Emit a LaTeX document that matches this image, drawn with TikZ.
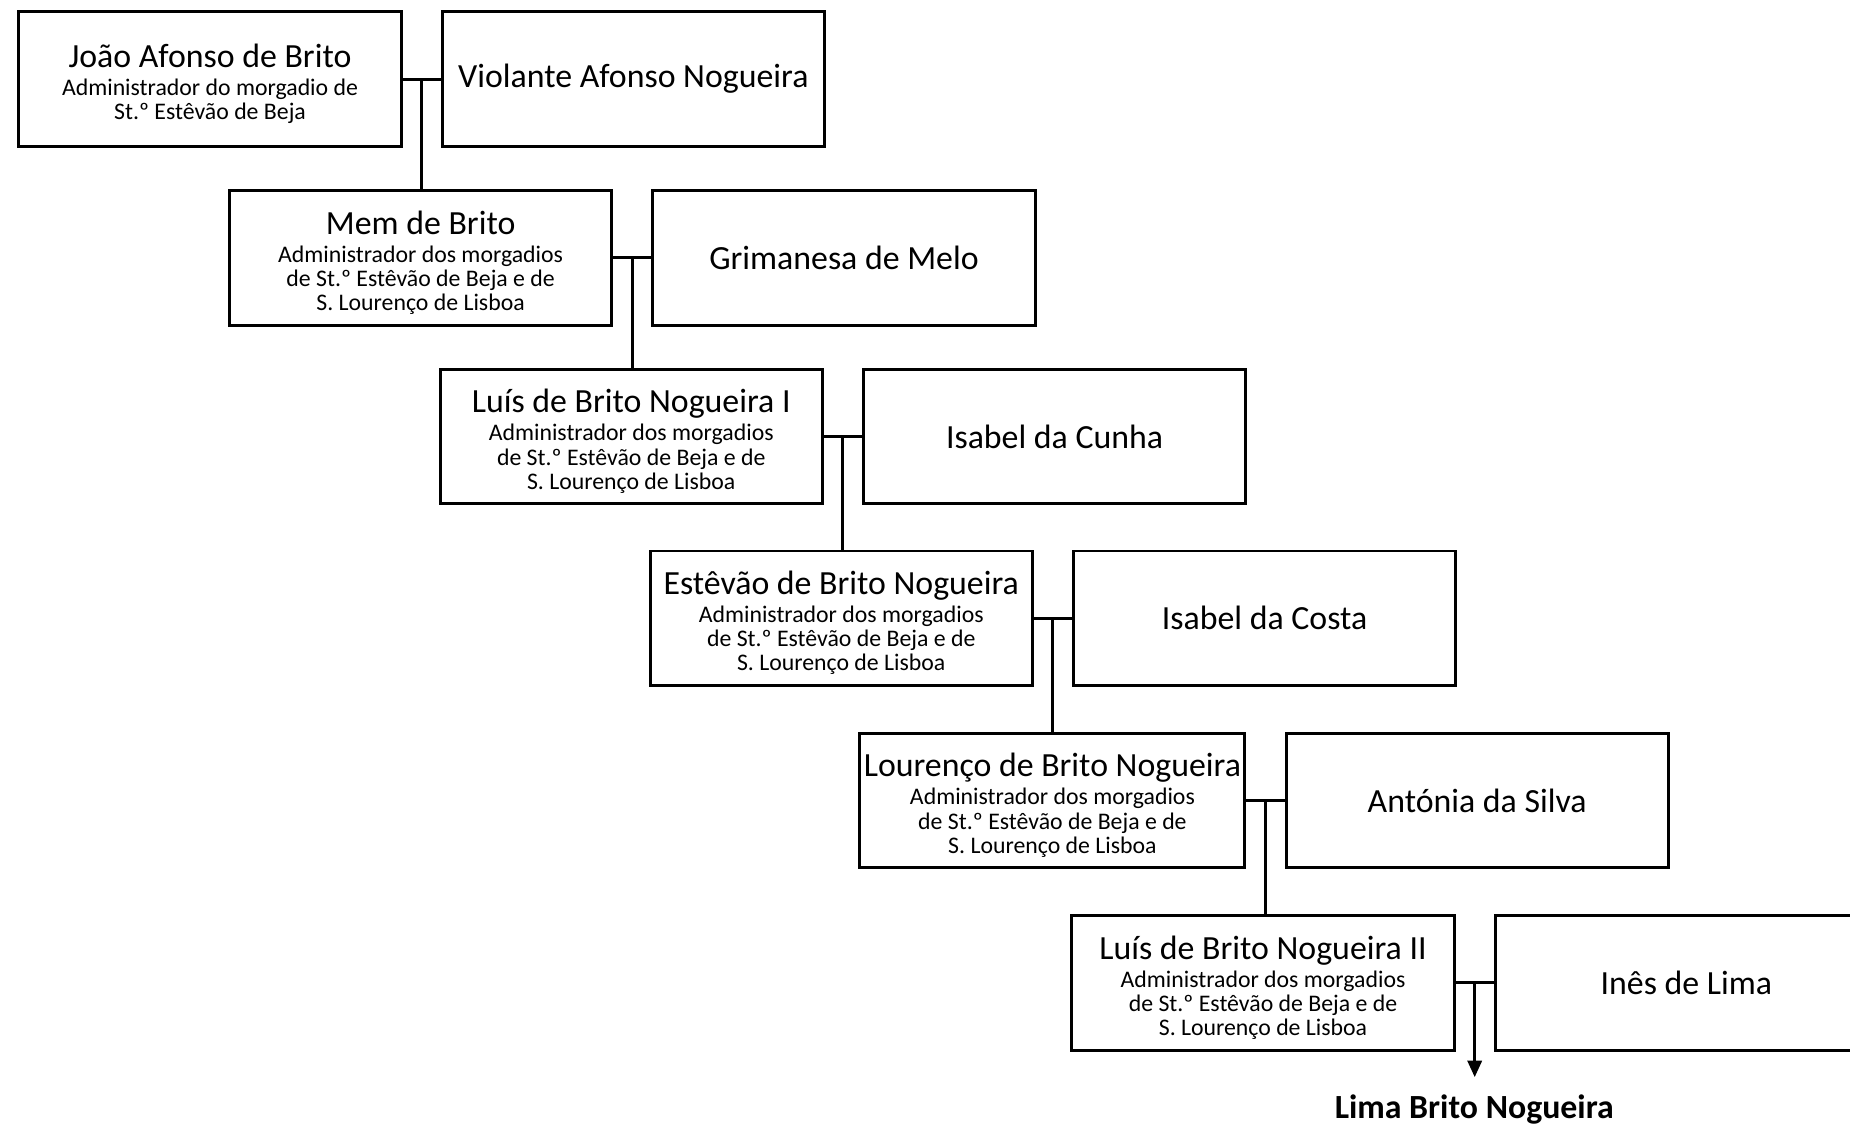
\documentclass[tikz,border=0pt]{standalone}
\usepackage{fontspec}
\setmainfont{Carlito}
\usetikzlibrary{arrows.meta, positioning}

\newcommand{\pname}[1]{{\fontsize{8.6pt}{10pt}\selectfont\rule{0pt}{8.4pt}#1}}

\begin{document}
\begin{tikzpicture}[x=0.3pt, y=-0.3pt,
    person/.style={draw, line width=0.75pt, minimum width=97.2pt, minimum height=34.2pt,
      inner sep=1pt, align=center, font=\fontsize{6.05pt}{6.15pt}\selectfont},
    spouse/.style={person, font=\fontsize{8.6pt}{10pt}\selectfont},
    link/.style={line width=0.75pt}]
    \useasboundingbox (0,0) rectangle (1568,954);

    % generations
    \node[person] (joao) at (178,67) {\pname{João Afonso de Brito}\\[1pt]
      Administrador do morgadio de\\ St.º Estêvão de Beja};
    \node[spouse] (violante) [right=9.7pt of joao] {Violante Afonso Nogueira};

    \node[person] (mem) at (356.5,218.5) {\pname{Mem de Brito}\\[1pt]
      Administrador dos morgadios\\ de St.º Estêvão de Beja e de\\ S. Lourenço de Lisboa};
    \node[spouse] (grimanesa) [right=9.7pt of mem] {Grimanesa de Melo};

    \node[person] (luis1) at (535,370) {\pname{Luís de Brito Nogueira I}\\[1pt]
      Administrador dos morgadios\\ de St.º Estêvão de Beja e de\\ S. Lourenço de Lisboa};
    \node[spouse] (cunha) [right=9.7pt of luis1] {Isabel da Cunha};

    \node[person] (estevao) at (713,524) {\pname{Estêvão de Brito Nogueira}\\[1pt]
      Administrador dos morgadios\\ de St.º Estêvão de Beja e de\\ S. Lourenço de Lisboa};
    \node[spouse] (costa) [right=9.7pt of estevao] {Isabel da Costa};

    \node[person] (lourenco) at (892,678.5) {\pname{Lourenço de Brito Nogueira}\\[1pt]
      Administrador dos morgadios\\ de St.º Estêvão de Beja e de\\ S. Lourenço de Lisboa};
    \node[spouse] (antonia) [right=9.7pt of lourenco] {Antónia da Silva};

    \node[person] (luis2) at (1070.5,833) {\pname{Luís de Brito Nogueira II}\\[1pt]
      Administrador dos morgadios\\ de St.º Estêvão de Beja e de\\ S. Lourenço de Lisboa};
    \node[spouse] (ines) [right=9.7pt of luis2] {Inês de Lima};

    \node[font=\bfseries\fontsize{8.6pt}{10pt}\selectfont, inner sep=1pt, anchor=north] (lima)
      at (1249.5,924) {Lima Brito Nogueira};

    % marriages and descent
    \draw[link] (joao.east) -- (violante.west) coordinate[midway] (m1);
    \draw[link] (mem.east) -- (grimanesa.west) coordinate[midway] (m2);
    \draw[link] (luis1.east) -- (cunha.west) coordinate[midway] (m3);
    \draw[link] (estevao.east) -- (costa.west) coordinate[midway] (m4);
    \draw[link] (lourenco.east) -- (antonia.west) coordinate[midway] (m5);
    \draw[link] (luis2.east) -- (ines.west) coordinate[midway] (m6);

    \draw[link] (m1) -- (m1 |- mem.north);
    \draw[link] (m2) -- (m2 |- luis1.north);
    \draw[link] (m3) -- (m3 |- estevao.north);
    \draw[link] (m4) -- (m4 |- lourenco.north);
    \draw[link] (m5) -- (m5 |- luis2.north);
    \draw[link, -{Triangle[length=4.2pt, width=3.6pt]}, shorten >=3.3pt] (m6) -- (m6 |- lima.north);
\end{tikzpicture}
\end{document}
